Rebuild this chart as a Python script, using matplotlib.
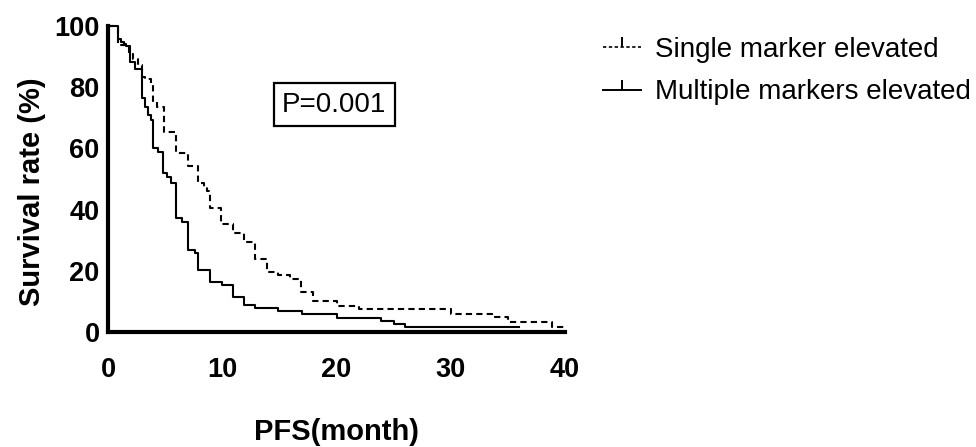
import matplotlib
matplotlib.use("Agg")
import matplotlib.pyplot as plt
from matplotlib.lines import Line2D

plt.rcParams['font.family'] = ['Liberation Sans', 'DejaVu Sans']

# Kaplan-Meier steps (months, % surviving)
single_t = [0, 0.9, 1.8, 2.2, 2.6, 2.95, 3.25, 3.8, 3.9, 4.3, 4.9, 5.96, 6.96, 7.9, 8.4,
            8.7, 8.9, 9.9, 10.9, 11.9, 12.9, 13.9, 14.9, 15.9, 16.9, 17.95, 20.0, 22.0,
            30.0, 33.8, 35.0, 38.9, 40.0]
single_s = [100, 93.8, 91, 89.1, 87.3, 83.4, 82.6, 80.7, 75.3, 73.6, 65.5, 58.6, 54.4, 48.6, 47.5,
            46.2, 40.4, 35.3, 32.2, 29.3, 23.9, 19.7, 18.5, 17.2, 13.2, 10.2, 8.6, 7.4,
            5.9, 5.0, 3.2, 1.7, 1.7]

multi_t = [0, 0.9, 1.1, 1.4, 1.6, 1.9, 2.4, 2.95, 3.25, 3.5, 3.8, 3.9, 4.4, 4.85, 5.15, 5.5,
           5.96, 6.46, 6.96, 7.6, 7.9, 8.95, 9.97, 10.9, 11.9, 12.9, 14.9, 17.0, 20.0, 23.9,
           25.0, 26.0, 36.0]
multi_s = [100, 95.6, 94.9, 94.1, 93.5, 88.3, 85.8, 76.4, 73.6, 70.9, 69.3, 60, 58.9, 51.9, 50.8, 48.6,
           37.1, 36, 26.8, 25.7, 20.3, 16.4, 15.4, 11.5, 8.8, 8.0, 6.9, 5.8, 4.7, 3.6,
           2.5, 1.5, 1.5]

labels = ["Single marker elevated", "Multiple markers elevated"]
x_ticks = [0, 10, 20, 30, 40]
y_ticks = [0, 20, 40, 60, 80, 100]
p_text = "P=0.001"

fig = plt.figure(figsize=(9.76, 4.47), dpi=100)
ax = fig.add_axes([108 / 976, 1 - 332 / 447, 457 / 976, 306 / 447])

ax.step(single_t, single_s, where='post', color='black', lw=1.5,
        linestyle=(0, (3, 2)), clip_on=False)
ax.step(multi_t, multi_s, where='post', color='black', lw=1.5, clip_on=False)

ax.set_xlim(0, 40)
ax.set_ylim(0, 100)
ax.set_xticks(x_ticks)
ax.set_yticks(y_ticks)
for side in ['top', 'right']:
    ax.spines[side].set_visible(False)
for side in ['left', 'bottom']:
    ax.spines[side].set_linewidth(3)
ax.tick_params(axis='both', length=0, labelsize=19.5)
ax.tick_params(axis='x', pad=18)
ax.tick_params(axis='y', pad=6)
for lab in ax.get_xticklabels() + ax.get_yticklabels():
    lab.set_fontweight('bold')

ax.set_xlabel("PFS(month)", fontsize=21, fontweight='bold', labelpad=25)
ax.set_ylabel("Survival rate (%)", fontsize=21, fontweight='bold')
ax.yaxis.set_label_coords(-0.136, 0.457)

ax.text(0.495, 0.743, p_text, transform=ax.transAxes, fontsize=20,
        ha='center', va='center',
        bbox=dict(boxstyle='square,pad=0.3', fc='white', ec='black', lw=1.6))

handles = [
    Line2D([], [], color='black', lw=1.2, linestyle=(0, (2, 1.5)), marker=2,
           markersize=7, markeredgewidth=1.4),
    Line2D([], [], color='black', lw=1.4, marker=2, markersize=7, markeredgewidth=1.4),
]
fig.legend(handles, labels, loc='upper left', bbox_to_anchor=(0.606, 0.943),
           frameon=False, fontsize=20, handlelength=1.4, handletextpad=0.5,
           labelspacing=0.6, borderaxespad=0, numpoints=1)

fig.savefig("out.png", dpi=100)
